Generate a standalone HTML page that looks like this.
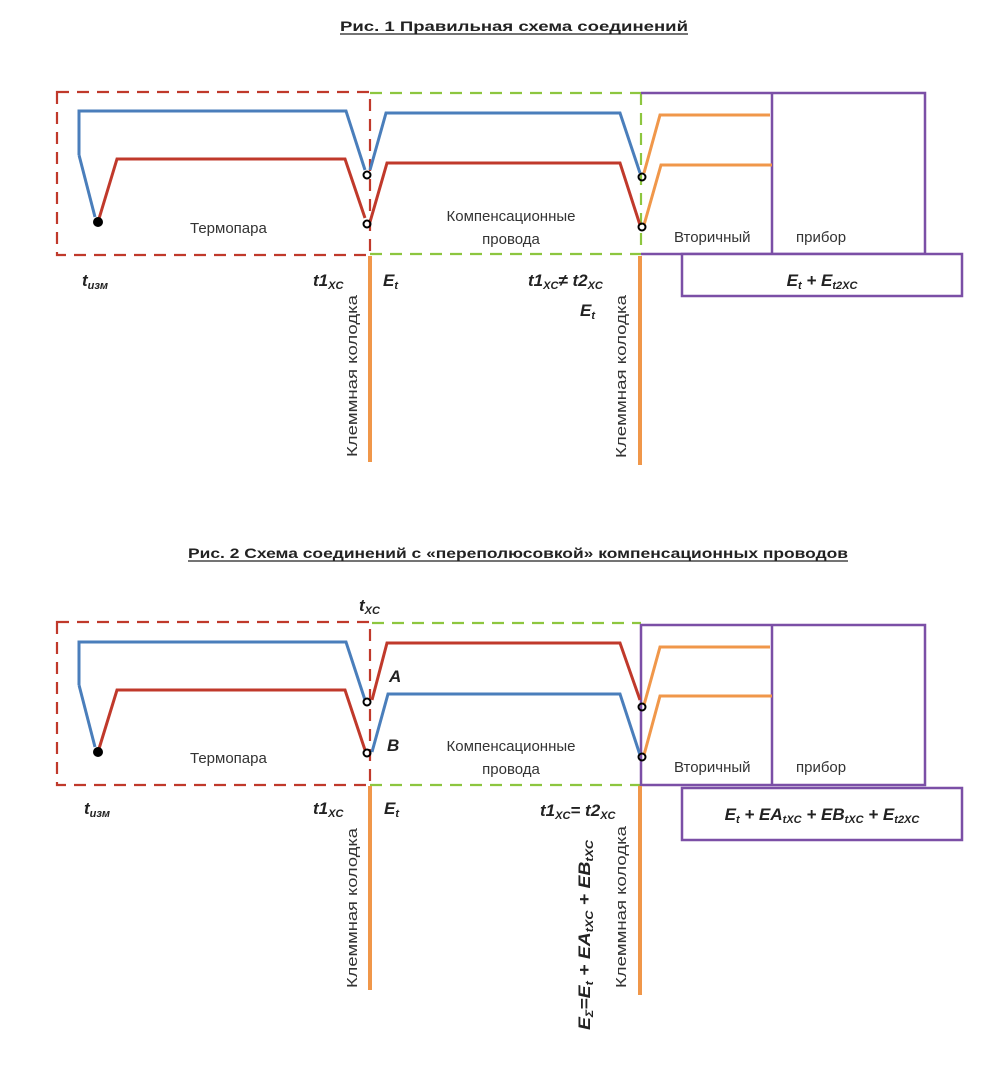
<!DOCTYPE html>
<html><head><meta charset="utf-8"><style>
html,body{margin:0;padding:0;background:#fff;}
svg{display:block;}
text{font-family:"Liberation Sans","DejaVu Sans",sans-serif;fill:#222;}
.b{font-weight:bold;font-style:italic;font-size:17px;}
.s{font-size:11px;}
.lab{font-size:15px;fill:#333;}
</style></head><body>
<svg width="984" height="1078" viewBox="0 0 984 1078" xmlns="http://www.w3.org/2000/svg">
<!-- ===== FIG 1 ===== -->
<text x="340" y="31" font-size="14" font-weight="bold" style="font-family:'Liberation Sans',sans-serif" textLength="348" lengthAdjust="spacingAndGlyphs">Рис. 1    Правильная схема соединений</text>
<line x1="340" y1="34" x2="688" y2="34" stroke="#222" stroke-width="1.2"/>

<g fill="none" stroke-width="2.2">
<rect x="57" y="92" width="313" height="163" stroke="#c0392b" stroke-dasharray="12,8"/>
<path d="M370 93 H641 M370 254 H641 M641 93 V254" stroke="#8dc63f" stroke-dasharray="12,8"/>
<path d="M641 93 H925 V254 H641 M772 93 V254" stroke="#7b4fa6" stroke-width="2.5"/>
<rect x="682" y="254" width="280" height="42" fill="#fff" stroke="#7b4fa6" stroke-width="2.5"/>
<path d="M79 155 V111 H346 L365 170" stroke="#4a7ebb" stroke-width="3"/>
<path d="M79 155 L95 217" stroke="#4a7ebb" stroke-width="3"/>
<path d="M98 222 L117 159 H345 L365 218" stroke="#c0392b" stroke-width="3"/>
<path d="M370 170 L386 113 H620 L640 173" stroke="#4a7ebb" stroke-width="3"/>
<path d="M370 222 L387 163 H620 L640 225" stroke="#c0392b" stroke-width="3"/>
<path d="M644 173 L660 115 H770" stroke="#f0974a" stroke-width="3"/>
<path d="M644 225 L661 165 H772" stroke="#f0974a" stroke-width="3"/>
<path d="M370 256 V462 M640 256 V465" stroke="#f0974a" stroke-width="4"/>
</g>
<circle cx="98" cy="222" r="5" fill="#000"/>
<g fill="none" stroke="#000" stroke-width="2">
<circle cx="367" cy="175" r="3.5"/><circle cx="367" cy="224" r="3.5"/>
<circle cx="642" cy="177" r="3.5"/><circle cx="642" cy="227" r="3.5"/>
</g>
<text class="lab" x="190" y="233">Термопара</text>
<text class="lab" x="511" y="221" text-anchor="middle">Компенсационные</text>
<text class="lab" x="511" y="244" text-anchor="middle">провода</text>
<text class="lab" x="674" y="242">Вторичный</text>
<text class="lab" x="796" y="242">прибор</text>
<text class="b" x="82" y="286">t<tspan class="s" dy="3">изм</tspan></text>
<text class="b" x="313" y="286">t1<tspan class="s" dy="3">XC</tspan></text>
<text class="b" x="383" y="286">E<tspan class="s" dy="3">t</tspan></text>
<text class="b" x="528" y="286">t1<tspan class="s" dy="3">XC</tspan><tspan dy="-3">≠ t2</tspan><tspan class="s" dy="3">XC</tspan></text>
<text class="b" x="580" y="316">E<tspan class="s" dy="3">t</tspan></text>
<text class="b" x="822" y="286" text-anchor="middle">E<tspan class="s" dy="3">t</tspan><tspan dy="-3"> + E</tspan><tspan class="s" dy="3">t2XC</tspan></text>
<text class="lab" transform="translate(357,457) rotate(-90)" textLength="162" lengthAdjust="spacingAndGlyphs">Клеммная колодка</text>
<text class="lab" transform="translate(626,458) rotate(-90)" textLength="163" lengthAdjust="spacingAndGlyphs">Клеммная колодка</text>

<!-- ===== FIG 2 ===== -->
<text x="188" y="558" font-size="14" font-weight="bold" style="font-family:'Liberation Sans',sans-serif" textLength="660" lengthAdjust="spacingAndGlyphs">Рис. 2   Схема соединений с «переполюсовкой» компенсационных проводов</text>
<line x1="188" y1="561" x2="848" y2="561" stroke="#222" stroke-width="1.2"/>

<g fill="none" stroke-width="2.2">
<rect x="57" y="622" width="313" height="163" stroke="#c0392b" stroke-dasharray="12,8"/>
<path d="M372 623 H641 M370 785 H641" stroke="#8dc63f" stroke-dasharray="12,8"/>
<path d="M641 625 H925 V785 H641 Z M772 625 V785" stroke="#7b4fa6" stroke-width="2.5"/>
<rect x="682" y="788" width="280" height="52" fill="#fff" stroke="#7b4fa6" stroke-width="2.5"/>
<path d="M79 685 V642 H346 L365 700" stroke="#4a7ebb" stroke-width="3"/>
<path d="M79 685 L95 747" stroke="#4a7ebb" stroke-width="3"/>
<path d="M98 752 L117 690 H345 L365 750" stroke="#c0392b" stroke-width="3"/>
<path d="M372 700 L387 643 H620 L640 700" stroke="#c0392b" stroke-width="3"/>
<path d="M372 752 L388 694 H620 L640 755" stroke="#4a7ebb" stroke-width="3"/>
<path d="M644 705 L660 647 H770" stroke="#f0974a" stroke-width="3"/>
<path d="M644 755 L660 696 H772" stroke="#f0974a" stroke-width="3"/>
<path d="M370 786 V990 M640 786 V995" stroke="#f0974a" stroke-width="4"/>
</g>
<circle cx="98" cy="752" r="5" fill="#000"/>
<g fill="none" stroke="#000" stroke-width="2">
<circle cx="367" cy="702" r="3.5"/><circle cx="367" cy="753" r="3.5"/>
<circle cx="642" cy="707" r="3.5"/><circle cx="642" cy="757" r="3.5"/>
</g>
<text class="lab" x="190" y="763">Термопара</text>
<text class="lab" x="511" y="751" text-anchor="middle">Компенсационные</text>
<text class="lab" x="511" y="774" text-anchor="middle">провода</text>
<text class="lab" x="674" y="772">Вторичный</text>
<text class="lab" x="796" y="772">прибор</text>
<text class="b" x="359" y="611">t<tspan class="s" dy="3">XC</tspan></text>
<text class="b" x="389" y="682">A</text>
<text class="b" x="387" y="751">B</text>
<text class="b" x="84" y="814">t<tspan class="s" dy="3">изм</tspan></text>
<text class="b" x="313" y="814">t1<tspan class="s" dy="3">XC</tspan></text>
<text class="b" x="384" y="814">E<tspan class="s" dy="3">t</tspan></text>
<text class="b" x="540" y="816">t1<tspan class="s" dy="3">XC</tspan><tspan dy="-3">= t2</tspan><tspan class="s" dy="3">XC</tspan></text>
<text class="b" x="822" y="820" text-anchor="middle">E<tspan class="s" dy="3">t</tspan><tspan dy="-3"> + EA</tspan><tspan class="s" dy="3">tXC</tspan><tspan dy="-3"> + EB</tspan><tspan class="s" dy="3">tXC</tspan><tspan dy="-3"> + E</tspan><tspan class="s" dy="3">t2XC</tspan></text>
<text class="lab" transform="translate(357,988) rotate(-90)" textLength="160" lengthAdjust="spacingAndGlyphs">Клеммная колодка</text>
<text class="lab" transform="translate(626,988) rotate(-90)" textLength="162" lengthAdjust="spacingAndGlyphs">Клеммная колодка</text>
<text class="b" transform="translate(590,1030) rotate(-90)" textLength="190" lengthAdjust="spacingAndGlyphs">E<tspan class="s" dy="3">Σ</tspan><tspan dy="-3">=E</tspan><tspan class="s" dy="3">t</tspan><tspan dy="-3"> + EA</tspan><tspan class="s" dy="3">tXC</tspan><tspan dy="-3"> + EB</tspan><tspan class="s" dy="3">tXC</tspan></text>
</svg>
</body></html>
